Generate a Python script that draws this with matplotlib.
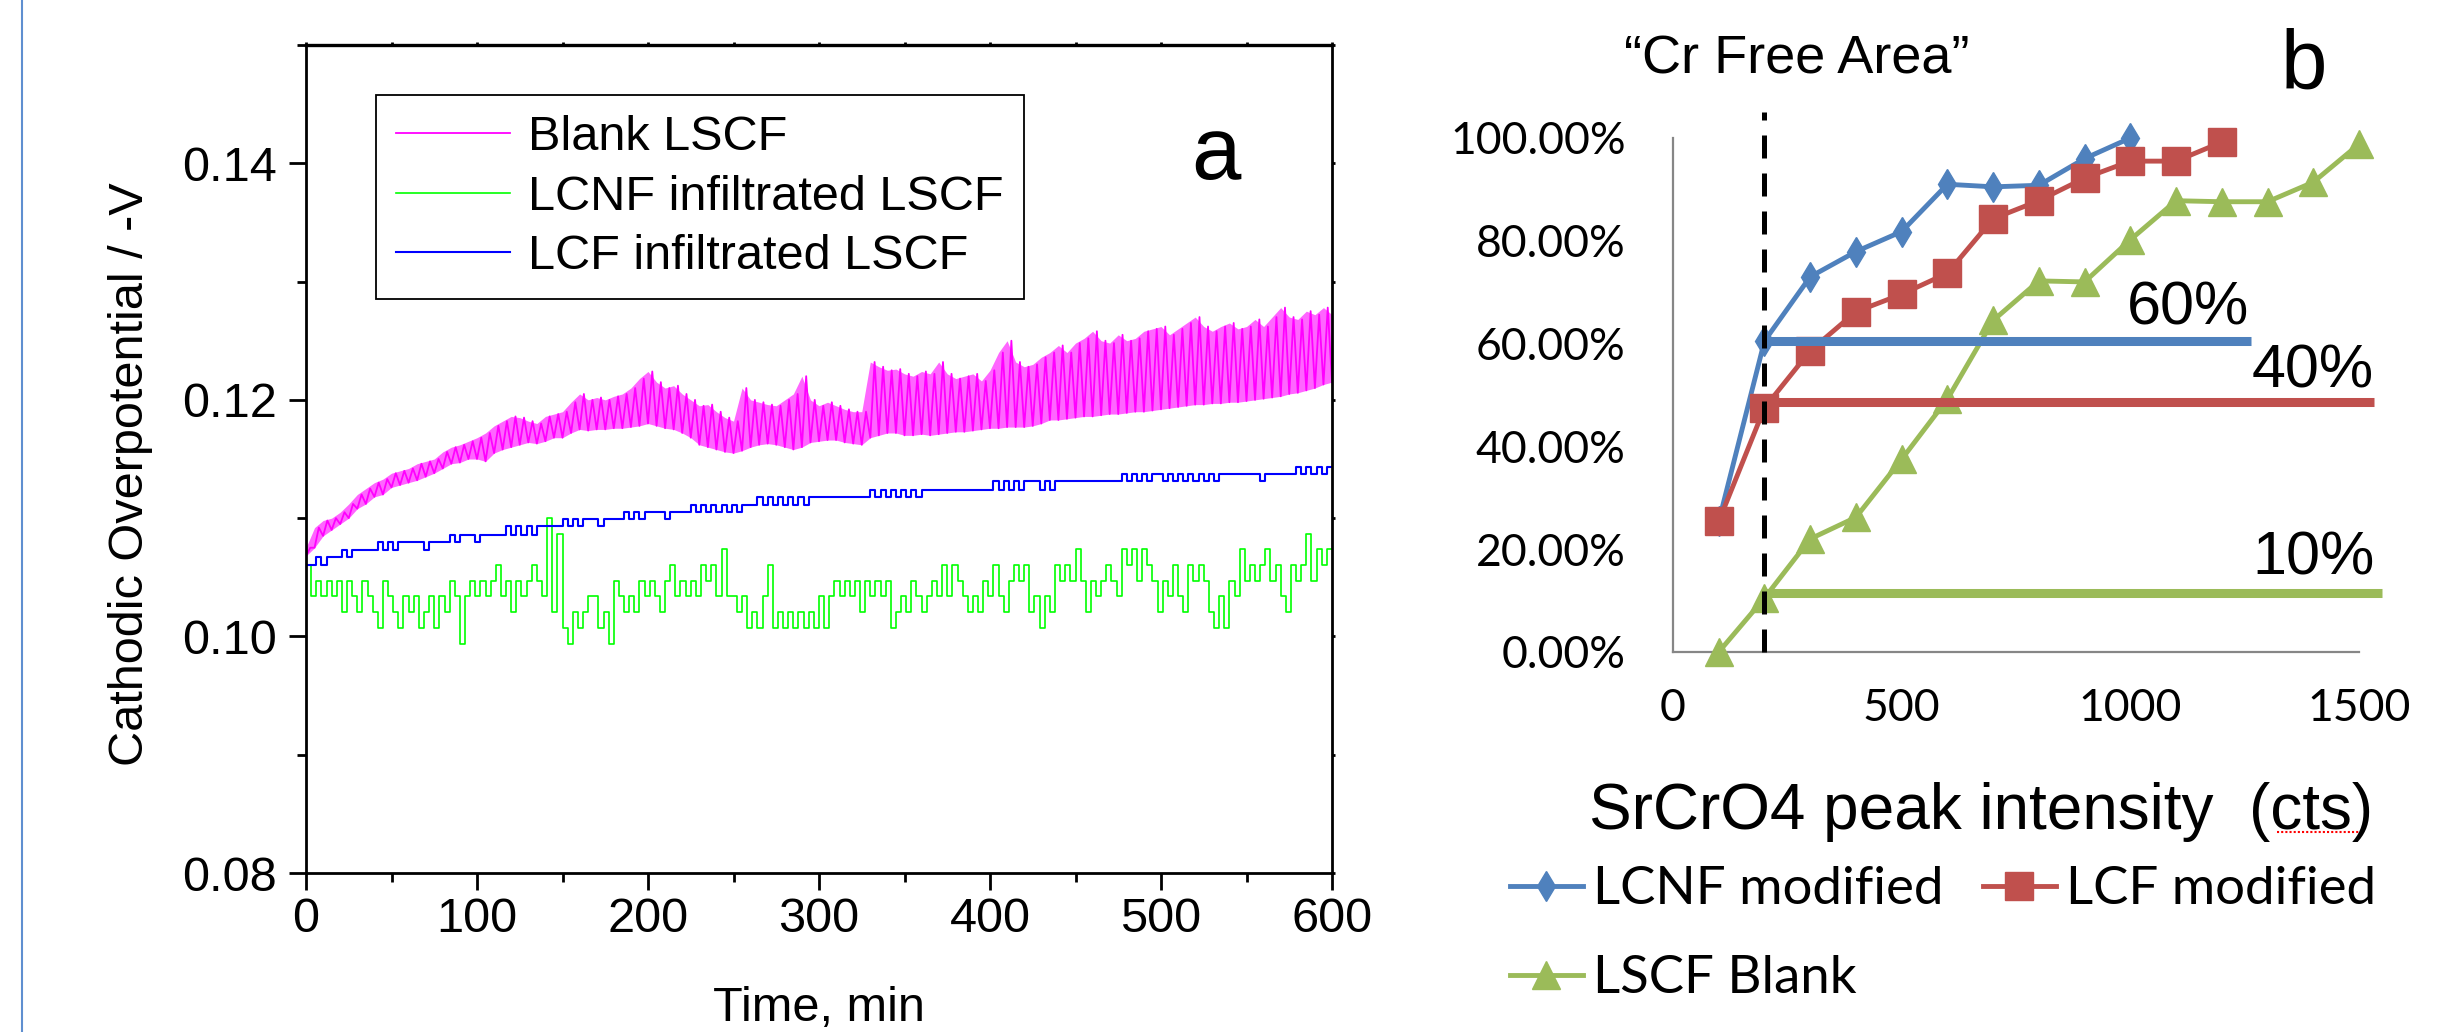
import matplotlib
matplotlib.use('Agg')
import matplotlib.pyplot as plt
import numpy as np
from matplotlib.ticker import MultipleLocator, FormatStrFormatter, PercentFormatter
from matplotlib.lines import Line2D

# ---------------- data: panel a ----------------
pink_t = np.arange(0, 601, 5)           # minutes (envelope samples)
pink_lo = [0.1068, 0.1075, 0.1085, 0.1090, 0.1095, 0.1100, 0.1108, 0.1112, 0.1118, 0.1120,
           0.1126, 0.1128, 0.1130, 0.1132, 0.1135, 0.1138, 0.1142, 0.1146, 0.1147, 0.1150,
           0.1150, 0.1148, 0.1155, 0.1158, 0.1160, 0.1162, 0.1164, 0.1163, 0.1165, 0.1168,
           0.1168, 0.1172, 0.1175, 0.1174, 0.1175, 0.1175, 0.1176, 0.1176, 0.1177, 0.1178,
           0.1180, 0.1178, 0.1176, 0.1175, 0.1172, 0.1168, 0.1162, 0.1160, 0.1158, 0.1156,
           0.1155, 0.1157, 0.1160, 0.1162, 0.1163, 0.1162, 0.1160, 0.1158, 0.1160, 0.1164,
           0.1165, 0.1166, 0.1166, 0.1164, 0.1163, 0.1162, 0.1168, 0.1170, 0.1172, 0.1172,
           0.1170, 0.1170, 0.1171, 0.1170, 0.1171, 0.1172, 0.1173, 0.1173, 0.1174, 0.1175,
           0.1176, 0.1176, 0.1177, 0.1177, 0.1177, 0.1178, 0.1180, 0.1183, 0.1183, 0.1184,
           0.1185, 0.1186, 0.1186, 0.1187, 0.1188, 0.1188, 0.1189, 0.1190, 0.1190, 0.1191,
           0.1192, 0.1193, 0.1194, 0.1195, 0.1196, 0.1196, 0.1197, 0.1197, 0.1198, 0.1198,
           0.1199, 0.1200, 0.1201, 0.1202, 0.1203, 0.1205, 0.1206, 0.1208, 0.1210, 0.1213,
           0.1215]
pink_hi = [0.1075, 0.1092, 0.1098, 0.1100, 0.1105, 0.1112, 0.1120, 0.1125, 0.1130, 0.1133,
           0.1138, 0.1140, 0.1142, 0.1146, 0.1148, 0.1150, 0.1156, 0.1160, 0.1162, 0.1165,
           0.1168, 0.1172, 0.1178, 0.1182, 0.1186, 0.1185, 0.1182, 0.1180, 0.1186, 0.1188,
           0.1190, 0.1198, 0.1205, 0.1200, 0.1202, 0.1200, 0.1203, 0.1205, 0.1210, 0.1218,
           0.1224, 0.1215, 0.1210, 0.1212, 0.1205, 0.1200, 0.1195, 0.1196, 0.1190, 0.1185,
           0.1182, 0.1210, 0.1200, 0.1198, 0.1196, 0.1195, 0.1200, 0.1205, 0.1220, 0.1200,
           0.1195, 0.1198, 0.1195, 0.1192, 0.1190, 0.1190, 0.1232, 0.1228, 0.1225, 0.1226,
           0.1222, 0.1220, 0.1224, 0.1222, 0.1232, 0.1222, 0.1218, 0.1220, 0.1222, 0.1216,
           0.1225, 0.1240, 0.1250, 0.1232, 0.1228, 0.1230, 0.1236, 0.1240, 0.1246, 0.1240,
           0.1248, 0.1252, 0.1258, 0.1250, 0.1248, 0.1255, 0.1250, 0.1252, 0.1258, 0.1260,
           0.1262, 0.1255, 0.1260, 0.1265, 0.1270, 0.1262, 0.1258, 0.1262, 0.1265, 0.1260,
           0.1262, 0.1268, 0.1262, 0.1270, 0.1278, 0.1270, 0.1268, 0.1275, 0.1272, 0.1278,
           0.1272]

step_t = np.arange(0, 601, 3)           # minutes
green = [0.1060, 0.1034, 0.1047, 0.1034, 0.1047, 0.1034, 0.1047, 0.1021, 0.1047, 0.1034,
         0.1021, 0.1047, 0.1034, 0.1021, 0.1007, 0.1047, 0.1034, 0.1021, 0.1007, 0.1034,
         0.1021, 0.1034, 0.1007, 0.1021, 0.1034, 0.1007, 0.1034, 0.1021, 0.1047, 0.1034,
         0.0994, 0.1034, 0.1047, 0.1034, 0.1047, 0.1034, 0.1047, 0.1060, 0.1034, 0.1047,
         0.1021, 0.1047, 0.1034, 0.1047, 0.1060, 0.1047, 0.1034, 0.1100, 0.1021, 0.1087,
         0.1007, 0.0994, 0.1021, 0.1007, 0.1021, 0.1034, 0.1034, 0.1007, 0.1021, 0.0994,
         0.1047, 0.1034, 0.1021, 0.1034, 0.1021, 0.1047, 0.1034, 0.1047, 0.1034, 0.1021,
         0.1047, 0.1060, 0.1034, 0.1047, 0.1034, 0.1047, 0.1034, 0.1060, 0.1047, 0.1060,
         0.1034, 0.1074, 0.1034, 0.1034, 0.1021, 0.1034, 0.1007, 0.1021, 0.1007, 0.1034,
         0.1060, 0.1007, 0.1021, 0.1007, 0.1021, 0.1007, 0.1021, 0.1007, 0.1021, 0.1007,
         0.1034,
         0.1007, 0.1034, 0.1047, 0.1034, 0.1047, 0.1034, 0.1047, 0.1021, 0.1047, 0.1034,
         0.1047, 0.1034, 0.1047, 0.1007, 0.1021, 0.1034, 0.1021, 0.1047, 0.1034, 0.1021,
         0.1034, 0.1047, 0.1034, 0.1060, 0.1034, 0.1060, 0.1047, 0.1034, 0.1021, 0.1034,
         0.1021, 0.1047, 0.1034, 0.1060, 0.1034, 0.1021, 0.1047, 0.1060, 0.1047, 0.1060,
         0.1021, 0.1034, 0.1007, 0.1034, 0.1021, 0.1060, 0.1047, 0.1060, 0.1047, 0.1074,
         0.1047, 0.1021, 0.1047, 0.1034, 0.1047, 0.1060, 0.1047, 0.1034, 0.1074, 0.1060,
         0.1074, 0.1047, 0.1074, 0.1060, 0.1047, 0.1021, 0.1047, 0.1034, 0.1060, 0.1034,
         0.1021, 0.1060, 0.1047, 0.1060, 0.1047, 0.1021, 0.1007, 0.1034, 0.1007, 0.1047,
         0.1034, 0.1074, 0.1047, 0.1060, 0.1047, 0.1060, 0.1074, 0.1047, 0.1060, 0.1034,
         0.1021, 0.1060, 0.1047, 0.1060, 0.1087, 0.1047, 0.1074, 0.1060, 0.1074, 0.1074]
blue = [0.1060, 0.1060, 0.1067, 0.1060, 0.1067, 0.1067, 0.1067, 0.1073, 0.1067, 0.1073,
        0.1073, 0.1073, 0.1073, 0.1073, 0.1080, 0.1073, 0.1080, 0.1073, 0.1080, 0.1080,
        0.1080, 0.1080, 0.1080, 0.1073, 0.1080, 0.1080, 0.1080, 0.1080, 0.1086, 0.1080,
        0.1086, 0.1086, 0.1086, 0.1080, 0.1086, 0.1086, 0.1086, 0.1086, 0.1086, 0.1093,
        0.1086, 0.1093, 0.1086, 0.1093, 0.1086, 0.1093, 0.1093, 0.1093, 0.1093, 0.1093,
        0.1099, 0.1093, 0.1099, 0.1093, 0.1099, 0.1099, 0.1099, 0.1093, 0.1099, 0.1099,
        0.1099, 0.1099, 0.1105, 0.1099, 0.1105, 0.1099, 0.1105, 0.1105, 0.1105, 0.1105,
        0.1099, 0.1105, 0.1105, 0.1105, 0.1105, 0.1111, 0.1105, 0.1111, 0.1105, 0.1111,
        0.1105, 0.1111, 0.1105, 0.1111, 0.1105, 0.1111, 0.1111, 0.1111, 0.1118, 0.1111,
        0.1118, 0.1111, 0.1118, 0.1111, 0.1118, 0.1111, 0.1118, 0.1111, 0.1118, 0.1118,
        0.1118, 0.1118, 0.1118, 0.1118, 0.1118, 0.1118, 0.1118, 0.1118, 0.1118, 0.1118,
        0.1124, 0.1118, 0.1124, 0.1118, 0.1124, 0.1118, 0.1124, 0.1118, 0.1124, 0.1118,
        0.1124, 0.1124, 0.1124, 0.1124, 0.1124, 0.1124, 0.1124, 0.1124, 0.1124, 0.1124,
        0.1124, 0.1124, 0.1124, 0.1124, 0.1131, 0.1124, 0.1131, 0.1124, 0.1131, 0.1124,
        0.1131, 0.1131, 0.1131, 0.1124, 0.1131, 0.1124, 0.1131, 0.1131, 0.1131, 0.1131,
        0.1131, 0.1131, 0.1131, 0.1131, 0.1131, 0.1131, 0.1131, 0.1131, 0.1131, 0.1137,
        0.1131, 0.1137, 0.1131, 0.1137, 0.1131, 0.1137, 0.1137, 0.1131, 0.1137, 0.1131,
        0.1137, 0.1131, 0.1137, 0.1131, 0.1137, 0.1131, 0.1137, 0.1131, 0.1137, 0.1137,
        0.1137, 0.1137, 0.1137, 0.1137, 0.1137, 0.1137, 0.1131, 0.1137, 0.1137, 0.1137,
        0.1137, 0.1137, 0.1137, 0.1143, 0.1137, 0.1143, 0.1137, 0.1143, 0.1137, 0.1143,
        0.1143]
labels_a = ['Blank LSCF', 'LCNF infiltrated LSCF', 'LCF infiltrated LSCF']

# ---------------- data: panel b ----------------
x_lcnf = [100, 200, 300, 400, 500, 600, 700, 800, 900, 1000]
y_lcnf = [25.4, 60.5, 73.0, 77.9, 81.8, 91.0, 90.5, 90.8, 96.0, 100.0]
x_lcf = [100, 200, 300, 400, 500, 600, 700, 800, 900, 1000, 1100, 1200]
y_lcf = [25.4, 47.5, 58.6, 66.2, 69.6, 73.7, 84.3, 87.8, 92.2, 95.5, 95.5, 99.2]
x_lscf = [100, 200, 300, 400, 500, 600, 700, 800, 900, 1000, 1100, 1200, 1300, 1400, 1500]
y_lscf = [0.0, 10.5, 22.0, 26.2, 37.5, 49.2, 64.5, 72.2, 72.0, 80.2, 87.8, 87.6, 87.6, 91.4, 98.8]
labels_b = ['LCNF modified', 'LCF modified', 'LSCF Blank']

ref_level = [60.5, 48.7, 11.4]
ref_x0 = [200, 175, 200]
ref_x1 = [1264, 1532, 1551]
ref_text = ['60%', '40%', '10%']
ref_text_x = [1127, 1398, 1401]
ref_text_y = [66.7, 54.4, 18.1]
cr_free_x = 200
cr_free_top = 105

# ---------------- figure ----------------
W, H = 2444, 1032
fig = plt.figure(figsize=(W / 100, H / 100), dpi=100)
ARIAL = 'Liberation Sans'
CALIBRI = 'Lato'

# ---- panel a ----
axA = fig.add_axes([306 / W, 1 - 873 / H, (1332 - 306) / W, (873 - 45) / H])
axA.fill_between(pink_t, pink_lo, pink_hi, color='#ff00ff', alpha=0.6, lw=0)
zx = np.ravel(np.column_stack([pink_t, pink_t + 2.5]))[:-1]
zy = np.ravel(np.column_stack([pink_lo, pink_hi]))[:-1]
lp, = axA.plot(zx, zy, color='#ff00ff', lw=1.3, label=labels_a[0])
lg, = axA.plot(step_t, green, drawstyle='steps-post', color='#00ff00', lw=1.2,
               label=labels_a[1])
lb, = axA.plot(step_t, blue, drawstyle='steps-post', color='#0000ff', lw=1.5,
               label=labels_a[2])

axA.set_xlim(0, 600)
axA.set_ylim(0.08, 0.15)
axA.xaxis.set_major_locator(MultipleLocator(100))
axA.xaxis.set_minor_locator(MultipleLocator(50))
axA.yaxis.set_major_locator(MultipleLocator(0.02))
axA.yaxis.set_minor_locator(MultipleLocator(0.01))
axA.yaxis.set_major_formatter(FormatStrFormatter('%.2f'))
for s in axA.spines.values():
    s.set_linewidth(2.0)
axA.spines['top'].set_linewidth(2.4)
axA.tick_params(which='major', direction='out', length=12, width=2, labelsize=35)
axA.tick_params(which='minor', direction='out', length=6.5, width=2)
axA.tick_params(axis='y', which='major', pad=9)
axA.tick_params(axis='x', which='major', pad=5)
axA.tick_params(which='both', top=True, right=True)
for t in axA.xaxis.get_major_ticks() + axA.yaxis.get_major_ticks():
    t.tick2line.set_markersize(2)
for t in axA.xaxis.get_minor_ticks() + axA.yaxis.get_minor_ticks():
    t.tick2line.set_markersize(2)
for lab in axA.get_xticklabels() + axA.get_yticklabels():
    lab.set_family(ARIAL)
axA.set_xlabel('Time, min', fontsize=35, family=ARIAL)
axA.set_ylabel('Cathodic Overpotential / -V', fontsize=35, family=ARIAL)
axA.xaxis.set_label_coords(0.5, -0.1365)
axA.yaxis.set_label_coords(-0.149, 0.482)

legA = axA.legend(handles=[lp, lg, lb], labels=labels_a,
                  loc='upper left', bbox_to_anchor=(0.068, 0.9396), borderaxespad=0,
                  frameon=True, fancybox=False, edgecolor='black', framealpha=1,
                  prop={'family': ARIAL, 'size': 35}, handlelength=2.35,
                  handletextpad=0.37, labelspacing=0.29, borderpad=0.42)
legA.get_frame().set_linewidth(1.3)
axA.text(0.887, 0.866, 'a', transform=axA.transAxes, fontsize=64, family=ARIAL,
         ha='center', va='center')

# ---- panel b ----
axB = fig.add_axes([1673 / W, 1 - 652 / H, (2359 - 1673) / W, (652 - 138) / H])
c_blue, c_red, c_green = '#4F81BD', '#C0504D', '#9BBB59'
hb = axB.plot(x_lcnf, y_lcnf, color=c_blue, lw=3.5, marker='d', ms=15,
              clip_on=False, zorder=3, label=labels_b[0])[0]
hr = axB.plot(x_lcf, y_lcf, color=c_red, lw=3.5, marker='s', ms=20,
              clip_on=False, zorder=4, label=labels_b[1])[0]
hg = axB.plot(x_lscf, y_lscf, color=c_green, lw=3.5, marker='^', ms=20,
              clip_on=False, zorder=5, label=labels_b[2])[0]
for lvl, x0, x1, c in zip(ref_level, ref_x0, ref_x1, [c_blue, c_red, c_green]):
    axB.plot([x0, x1], [lvl, lvl], color=c, lw=6.5, solid_capstyle='butt',
             clip_on=False, zorder=6)
axB.plot([cr_free_x, cr_free_x], [0, cr_free_top], color='black', lw=3.6,
         dashes=(4.6, 3), clip_on=False, zorder=7)
for txt, tx, ty in zip(ref_text, ref_text_x, ref_text_y):
    axB.text(tx, ty, txt, fontsize=44, family=ARIAL, ha='center', va='center', zorder=8)

axB.set_xlim(0, 1500)
axB.set_ylim(0, 100)
axB.set_xticks([0, 500, 1000, 1500])
axB.set_yticks([0, 20, 40, 60, 80, 100])
axB.yaxis.set_major_formatter(PercentFormatter(xmax=100, decimals=2))
for side in ['top', 'right']:
    axB.spines[side].set_visible(False)
for side in ['left', 'bottom']:
    axB.spines[side].set_color('#868686')
    axB.spines[side].set_linewidth(1.6)
axB.tick_params(length=0, labelsize=32)
axB.tick_params(axis='y', pad=34)
axB.tick_params(axis='x', pad=26)
for lab in axB.get_xticklabels() + axB.get_yticklabels():
    lab.set_family(CALIBRI)
axB.set_facecolor('none')

fig.text(1797 / W, 1 - 60 / H, '\u201cCr Free Area\u201d', fontsize=39, family=ARIAL,
         ha='center', va='center')
fig.text(2304 / W, 1 - 67 / H, 'b', fontsize=60, family=ARIAL, ha='center', va='center')
fig.text(1981 / W, 1 - 812 / H, 'SrCrO4 peak intensity  (cts)', fontsize=46, family=ARIAL,
         ha='center', va='center')
fig.add_artist(Line2D([2277 / W, 2359 / W], [1 - 832 / H] * 2, color='red', lw=1.5,
                      ls=(0, (1, 1))))

fig.legend(handles=[hb, hg, hr], labels=[labels_b[0], labels_b[2], labels_b[1]], ncol=2,
           loc='upper left', bbox_to_anchor=(1510 / W, 1 - 866 / H), frameon=False,
           prop={'family': CALIBRI, 'size': 38}, handlelength=1.38, handletextpad=0.19,
           columnspacing=0.75, labelspacing=0.8, borderpad=0, borderaxespad=0)

# page edge line at left
fig.add_artist(Line2D([22 / W, 22 / W], [0, 1], color='#5f8fd0', lw=1.5))

fig.savefig('out.png', dpi=100)
